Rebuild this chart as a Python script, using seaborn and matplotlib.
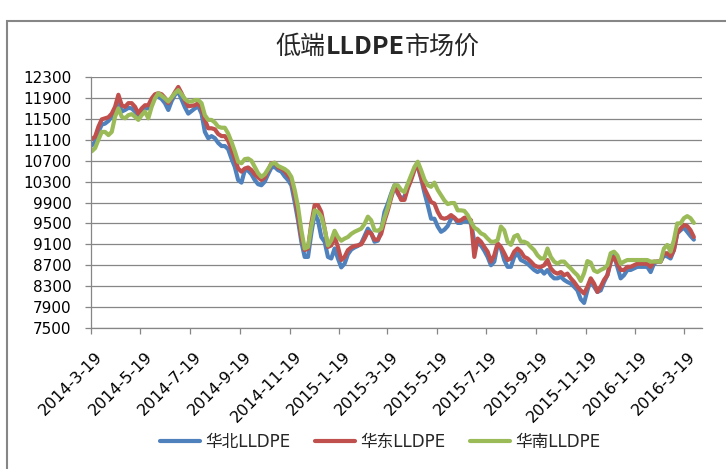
import pandas as pd
import matplotlib.pyplot as plt
import matplotlib.transforms as mtransforms
import seaborn as sns
from matplotlib.patches import Rectangle

# series (yuan/ton)
series_names = ['华北LLDPE', '华东LLDPE', '华南LLDPE']
colors = ['#4F81BD', '#C0504D', '#9BBB59']

huabei = [
    10990, 11060, 11250, 11390, 11410, 11460, 11540, 11670, 11830, 11640,
    11670, 11710, 11700, 11640, 11570, 11640, 11700, 11700, 11850, 11920,
    11920, 11880, 11800, 11670, 11840, 11960, 12020, 11870, 11720, 11600,
    11650, 11700, 11740, 11600, 11250, 11130, 11170, 11130, 11040, 10980,
    10980, 10920, 10740, 10580, 10330, 10280, 10520, 10510, 10440, 10330,
    10250, 10230, 10300, 10440, 10570, 10580, 10520, 10490, 10400, 10330,
    10230, 9910, 9560, 9150, 8860, 8860, 9310, 9690, 9560, 9240,
    9150, 8860, 8830, 9020, 8830, 8660, 8730, 8910, 9000, 9040,
    9070, 9120, 9260, 9400, 9310, 9150, 9170, 9360, 9720, 9880,
    10070, 10230, 10070, 9980, 10010, 10200, 10360, 10550, 10580, 10360,
    10090, 9850, 9590, 9590, 9440, 9340, 9380, 9450, 9590, 9610,
    9510, 9510, 9550, 9530, 9510, 9150, 9120, 9080, 8980, 8860,
    8700, 8770, 9090, 9020, 8800, 8670, 8670, 8860, 8930, 8800,
    8770, 8730, 8670, 8610, 8570, 8610, 8540, 8610, 8510, 8450,
    8450, 8480, 8420, 8380, 8350, 8290, 8220, 8050, 7980, 8220,
    8420, 8290, 8190, 8220, 8380, 8510, 8770, 8890, 8670, 8450,
    8510, 8610, 8610, 8640, 8670, 8670, 8670, 8670, 8570, 8730,
    8770, 8770, 8890, 8870, 8830, 8990, 9310, 9370, 9420, 9340,
    9260, 9190,
]
huadong = [
    11110, 11160, 11350, 11490, 11510, 11530, 11600, 11730, 11960, 11760,
    11730, 11800, 11800, 11730, 11600, 11700, 11760, 11760, 11890, 11970,
    11990, 11970, 11900, 11800, 11900, 12010, 12110, 11990, 11850, 11740,
    11750, 11760, 11800, 11700, 11480, 11320, 11320, 11300, 11210, 11170,
    11170, 11080, 10920, 10740, 10550, 10490, 10550, 10570, 10520, 10440,
    10380, 10330, 10380, 10520, 10650, 10660, 10570, 10550, 10500, 10420,
    10340, 10040, 9660, 9240, 8990, 9020, 9500, 9850, 9850, 9720,
    9400, 9050, 9080, 9240, 9050, 8800, 8860, 8990, 9040, 9070,
    9080, 9100, 9210, 9340, 9310, 9190, 9190, 9300, 9550, 9750,
    9990, 10200, 10100, 9950, 9950, 10170, 10330, 10520, 10620, 10390,
    10170, 10040, 9910, 9880, 9720, 9610, 9590, 9610, 9660, 9610,
    9550, 9560, 9610, 9610, 9560, 8860, 9210, 9150, 9050, 8960,
    8770, 8890, 9120, 9050, 8930, 8800, 8830, 8960, 9020, 8960,
    8860, 8830, 8770, 8700, 8670, 8670, 8700, 8800, 8640, 8570,
    8540, 8570, 8510, 8540, 8450, 8380, 8290, 8220, 8160, 8290,
    8450, 8350, 8190, 8290, 8420, 8510, 8770, 8860, 8730, 8610,
    8610, 8670, 8670, 8700, 8730, 8730, 8730, 8730, 8670, 8770,
    8770, 8770, 8930, 8930, 8870, 8990, 9310, 9400, 9470, 9450,
    9370, 9240,
]
huanan = [
    10880, 10940, 11100, 11250, 11250, 11190, 11250, 11540, 11700, 11540,
    11510, 11570, 11590, 11540, 11480, 11570, 11640, 11510, 11730, 11890,
    11990, 11940, 11890, 11830, 11910, 11990, 12050, 11970, 11880, 11830,
    11830, 11860, 11860, 11800, 11570, 11480, 11480, 11430, 11350, 11330,
    11330, 11220, 11060, 10880, 10680, 10650, 10730, 10740, 10700, 10580,
    10460, 10390, 10440, 10540, 10640, 10660, 10600, 10570, 10540, 10490,
    10390, 10140, 9820, 9370, 9020, 9050, 9440, 9750, 9720, 9630,
    9400, 9080, 9180, 9360, 9240, 9170, 9210, 9240, 9300, 9340,
    9370, 9400, 9490, 9630, 9560, 9370, 9360, 9400, 9610, 9800,
    10040, 10230, 10230, 10140, 10100, 10260, 10420, 10580, 10680, 10520,
    10340, 10230, 10200, 10280, 10140, 10040, 9940, 9870, 9890, 9890,
    9750, 9750, 9740, 9660, 9530, 9420, 9380, 9310, 9280, 9210,
    9150, 9150, 9180, 9440, 9370, 9150, 9090, 9250, 9280, 9150,
    9150, 9120, 9050, 8990, 8890, 8830, 8830, 9020, 8860, 8770,
    8730, 8770, 8770, 8700, 8640, 8570, 8510, 8400, 8550, 8780,
    8750, 8600, 8570, 8610, 8640, 8700, 8930, 8960, 8890, 8730,
    8770, 8800, 8800, 8800, 8800, 8800, 8800, 8800, 8770, 8770,
    8770, 8770, 9020, 9090, 8960, 9180, 9500, 9500, 9600, 9640,
    9600, 9510,
]

first_day, last_day = '2014-03-20', '2016-03-31'
tick_labels = ['2014-3-19', '2014-5-19', '2014-7-19', '2014-9-19', '2014-11-19',
               '2015-1-19', '2015-3-19', '2015-5-19', '2015-7-19', '2015-9-19',
               '2015-11-19', '2016-1-19', '2016-3-19']
y_ticks = list(range(7500, 12301, 400))

dates = pd.date_range(first_day, last_day, periods=len(huabei))
frames = []
for name, vals in zip(series_names, [huabei, huadong, huanan]):
    frames.append(pd.DataFrame({'date': dates, 'price': vals, 'region': name}))
df = pd.concat(frames, ignore_index=True)

sns.set_theme(style='white')
plt.rcParams['font.family'] = ['DejaVu Sans', 'Noto Sans CJK SC']
grey = '#868686'

fig = plt.figure(figsize=(7.26, 4.69), dpi=100)
ax = fig.add_axes([0.1253, 0.3006, 0.8416, 0.5352])

sns.lineplot(data=df, x='date', y='price', hue='region', hue_order=series_names,
             palette=dict(zip(series_names, colors)), linewidth=3, sort=False, ax=ax)

ax.set_ylim(7500, 12300)
ax.set_yticks(y_ticks)
ax.set_xlim(pd.Timestamp('2014-03-19'), pd.Timestamp('2016-04-10'))
ax.set_xticks(pd.to_datetime(tick_labels, format='%Y-%m-%d'))
ax.set_xticklabels(tick_labels, rotation=45, ha='right', rotation_mode='anchor')
ax.set_xlabel('')
ax.set_ylabel('')

ax.yaxis.grid(True, color=grey, linewidth=0.9)
ax.set_axisbelow(True)
for side in ['top', 'right']:
    ax.spines[side].set_visible(False)
for side in ['left', 'bottom']:
    ax.spines[side].set_color(grey)
    ax.spines[side].set_linewidth(0.9)
ax.tick_params(axis='both', which='major', direction='out', length=4, width=0.9,
               color=grey, labelsize=11, labelcolor='black')
ax.tick_params(axis='y', pad=10)
ax.tick_params(axis='x', pad=11, labelsize=11.5)
ax.tick_params(left=True, bottom=True)

# nudge the slanted date labels a little to the right, like the reference
shift = mtransforms.ScaledTranslation(4 / 100, 0, fig.dpi_scale_trans)
for lab in ax.get_xticklabels():
    lab.set_transform(lab.get_transform() + shift)

# title: bold latin part in the middle
mid = fig.text(365 / 726, 1 - 47 / 469, 'LLDPE', ha='center', va='center',
               fontsize=18, fontweight='bold', family=['Noto Sans CJK SC'])
ax.annotate('低端', xy=(0, 0.5), xycoords=mid, ha='right', va='center',
            fontsize=18, family=['Noto Sans CJK SC'])
ax.annotate('市场价', xy=(1, 0.5), xycoords=mid, ha='left', va='center',
            fontsize=18, family=['Noto Sans CJK SC'])

ax.legend(loc='center', bbox_to_anchor=(380 / 726, 1 - 442 / 469),
          bbox_transform=fig.transFigure, ncol=3, frameon=False,
          prop={'family': ['DejaVu Sans', 'Noto Sans CJK SC'], 'size': 12},
          handlelength=2.4, handletextpad=0.3, columnspacing=1.5)

# chart frame (runs off the right and bottom edges)
fig.patches.append(Rectangle((7 / 726, -0.2), 1.5, 1.2 - 21 / 469, transform=fig.transFigure,
                             fill=False, edgecolor=grey, linewidth=1.5))

fig.savefig('out.png', dpi=100)
